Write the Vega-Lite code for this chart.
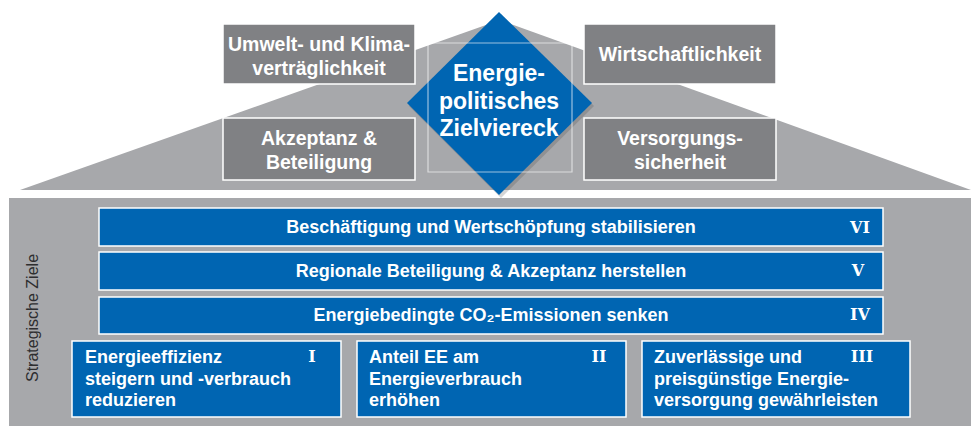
{
  "$schema": "https://vega.github.io/schema/vega-lite/v6.json",
  "width": 971,
  "height": 426,
  "padding": 0,
  "autosize": {"type": "none"},
  "background": "white",
  "config": {"view": {"stroke": null}, "axis": {"disable": true}},
  "datasets": {
    "roof": [{"x": 20, "y": 190, "y2": 190}, {"x": 500, "y": 20, "y2": 190}, {"x": 971, "y": 190, "y2": 190}],
    "body": [{"x": 9, "x2": 971, "y": 198, "y2": 426}],
    "roofBoxes": [
      {"x": 223, "x2": 415, "y": 24, "y2": 84},
      {"x": 223, "x2": 415, "y": 118, "y2": 180},
      {"x": 584, "x2": 776, "y": 24, "y2": 84},
      {"x": 584, "x2": 776, "y": 118, "y2": 180}
    ],
    "centerBox": [{"x": 428, "x2": 572, "y": 43, "y2": 172}],
    "diamondShadow": [{"x": 409, "y": 106, "y2": 106}, {"x": 501, "y": 14, "y2": 198}, {"x": 594, "y": 106, "y2": 106}],
    "diamond": [{"x": 407, "y": 103, "y2": 103}, {"x": 499, "y": 12, "y2": 195}, {"x": 592, "y": 103, "y2": 103}],
    "bars": [
      {"x": 99, "x2": 883, "y": 208, "y2": 246},
      {"x": 99, "x2": 883, "y": 252, "y2": 290},
      {"x": 99, "x2": 883, "y": 297, "y2": 334},
      {"x": 72, "x2": 341, "y": 341, "y2": 417},
      {"x": 357, "x2": 626, "y": 341, "y2": 417},
      {"x": 642, "x2": 910, "y": 341, "y2": 417}
    ],
    "roofText": [
      {"x": 319, "y": 45, "label": "Umwelt- und Klima-\nverträglichkeit"},
      {"x": 319, "y": 139, "label": "Akzeptanz &\nBeteiligung"},
      {"x": 680, "y": 55, "label": "Wirtschaftlichkeit"},
      {"x": 680, "y": 139, "label": "Versorgungs-\nsicherheit"}
    ],
    "diamondText": [{"x": 499, "y": 74, "label": "Energie-\npolitisches\nZielviereck"}],
    "barText": [
      {"x": 491, "y": 228, "label": "Beschäftigung und Wertschöpfung stabilisieren"},
      {"x": 491, "y": 272, "label": "Regionale Beteiligung & Akzeptanz herstellen"},
      {"x": 491, "y": 316, "label": "Energiebedingte CO₂-Emissionen senken"}
    ],
    "boxText": [
      {"x": 85, "y": 358, "label": "Energieeffizienz\nsteigern und -verbrauch\nreduzieren"},
      {"x": 369, "y": 358, "label": "Anteil EE am\nEnergieverbrauch\nerhöhen"},
      {"x": 654, "y": 358, "label": "Zuverlässige und\npreisgünstige Energie-\nversorgung gewährleisten"}
    ],
    "numerals": [
      {"x": 860, "y": 228, "label": "VI"},
      {"x": 858, "y": 271, "label": "V"},
      {"x": 860, "y": 315, "label": "IV"},
      {"x": 312, "y": 357, "label": "I"},
      {"x": 599, "y": 357, "label": "II"},
      {"x": 862, "y": 357, "label": "III"}
    ],
    "sideText": [{"x": 33, "y": 318, "label": "Strategische Ziele"}]
  },
  "layer": [
    {
      "data": {"name": "roof"},
      "mark": {"type": "area", "color": "#a7a8ab", "interpolate": "linear"},
      "encoding": {
        "x": {"field": "x", "type": "quantitative", "scale": {"domain": [0, 971], "nice": false, "zero": false}, "axis": null},
        "y": {"field": "y", "type": "quantitative", "scale": {"domain": [426, 0], "nice": false, "zero": false}, "axis": null},
        "y2": {"field": "y2"}
      }
    },
    {
      "data": {"name": "body"},
      "mark": {"type": "rect", "color": "#a7a8ab"},
      "encoding": {
        "x": {"field": "x", "type": "quantitative"}, "x2": {"field": "x2"},
        "y": {"field": "y", "type": "quantitative"}, "y2": {"field": "y2"}
      }
    },
    {
      "data": {"name": "roofBoxes"},
      "mark": {"type": "rect", "fill": "#808184", "stroke": "white", "strokeWidth": 1.5},
      "encoding": {
        "x": {"field": "x", "type": "quantitative"}, "x2": {"field": "x2"},
        "y": {"field": "y", "type": "quantitative"}, "y2": {"field": "y2"}
      }
    },
    {
      "data": {"name": "diamondShadow"},
      "mark": {"type": "area", "color": "#404040", "opacity": 0.22, "interpolate": "linear"},
      "encoding": {
        "x": {"field": "x", "type": "quantitative"},
        "y": {"field": "y", "type": "quantitative"}, "y2": {"field": "y2"}
      }
    },
    {
      "data": {"name": "diamond"},
      "mark": {"type": "area", "color": "#0065b2", "interpolate": "linear"},
      "encoding": {
        "x": {"field": "x", "type": "quantitative"},
        "y": {"field": "y", "type": "quantitative"}, "y2": {"field": "y2"}
      }
    },
    {
      "data": {"name": "centerBox"},
      "mark": {"type": "rect", "fill": null, "fillOpacity": 0, "stroke": "white", "strokeWidth": 1.2, "strokeOpacity": 0.6},
      "encoding": {
        "x": {"field": "x", "type": "quantitative"}, "x2": {"field": "x2"},
        "y": {"field": "y", "type": "quantitative"}, "y2": {"field": "y2"}
      }
    },
    {
      "data": {"name": "bars"},
      "mark": {"type": "rect", "fill": "#0065b2", "stroke": "white", "strokeWidth": 1.5},
      "encoding": {
        "x": {"field": "x", "type": "quantitative"}, "x2": {"field": "x2"},
        "y": {"field": "y", "type": "quantitative"}, "y2": {"field": "y2"}
      }
    },
    {
      "data": {"name": "roofText"},
      "mark": {"type": "text", "font": "Liberation Sans", "fontWeight": "bold", "fontSize": 19.5, "color": "white", "align": "center", "baseline": "middle", "lineBreak": "\n", "lineHeight": 24},
      "encoding": {
        "x": {"field": "x", "type": "quantitative"},
        "y": {"field": "y", "type": "quantitative"},
        "text": {"field": "label"}
      }
    },
    {
      "data": {"name": "diamondText"},
      "mark": {"type": "text", "font": "Liberation Sans", "fontWeight": "bold", "fontSize": 23, "color": "white", "align": "center", "baseline": "middle", "lineBreak": "\n", "lineHeight": 27.5},
      "encoding": {
        "x": {"field": "x", "type": "quantitative"},
        "y": {"field": "y", "type": "quantitative"},
        "text": {"field": "label"}
      }
    },
    {
      "data": {"name": "barText"},
      "mark": {"type": "text", "font": "Liberation Sans", "fontWeight": "bold", "fontSize": 18, "color": "white", "align": "center", "baseline": "middle"},
      "encoding": {
        "x": {"field": "x", "type": "quantitative"},
        "y": {"field": "y", "type": "quantitative"},
        "text": {"field": "label"}
      }
    },
    {
      "data": {"name": "boxText"},
      "mark": {"type": "text", "font": "Liberation Sans", "fontWeight": "bold", "fontSize": 18, "color": "white", "align": "left", "baseline": "middle", "lineBreak": "\n", "lineHeight": 21.5},
      "encoding": {
        "x": {"field": "x", "type": "quantitative"},
        "y": {"field": "y", "type": "quantitative"},
        "text": {"field": "label"}
      }
    },
    {
      "data": {"name": "numerals"},
      "mark": {"type": "text", "font": "DejaVu Serif", "fontWeight": "bold", "fontSize": 16, "color": "white", "align": "center", "baseline": "middle"},
      "encoding": {
        "x": {"field": "x", "type": "quantitative"},
        "y": {"field": "y", "type": "quantitative"},
        "text": {"field": "label"}
      }
    },
    {
      "data": {"name": "sideText"},
      "mark": {"type": "text", "font": "Liberation Sans", "fontSize": 16, "fill": "#2e2e30", "opacity": 1, "align": "center", "baseline": "middle", "angle": 270},
      "encoding": {
        "x": {"field": "x", "type": "quantitative"},
        "y": {"field": "y", "type": "quantitative"},
        "text": {"field": "label"}
      }
    }
  ]
}
